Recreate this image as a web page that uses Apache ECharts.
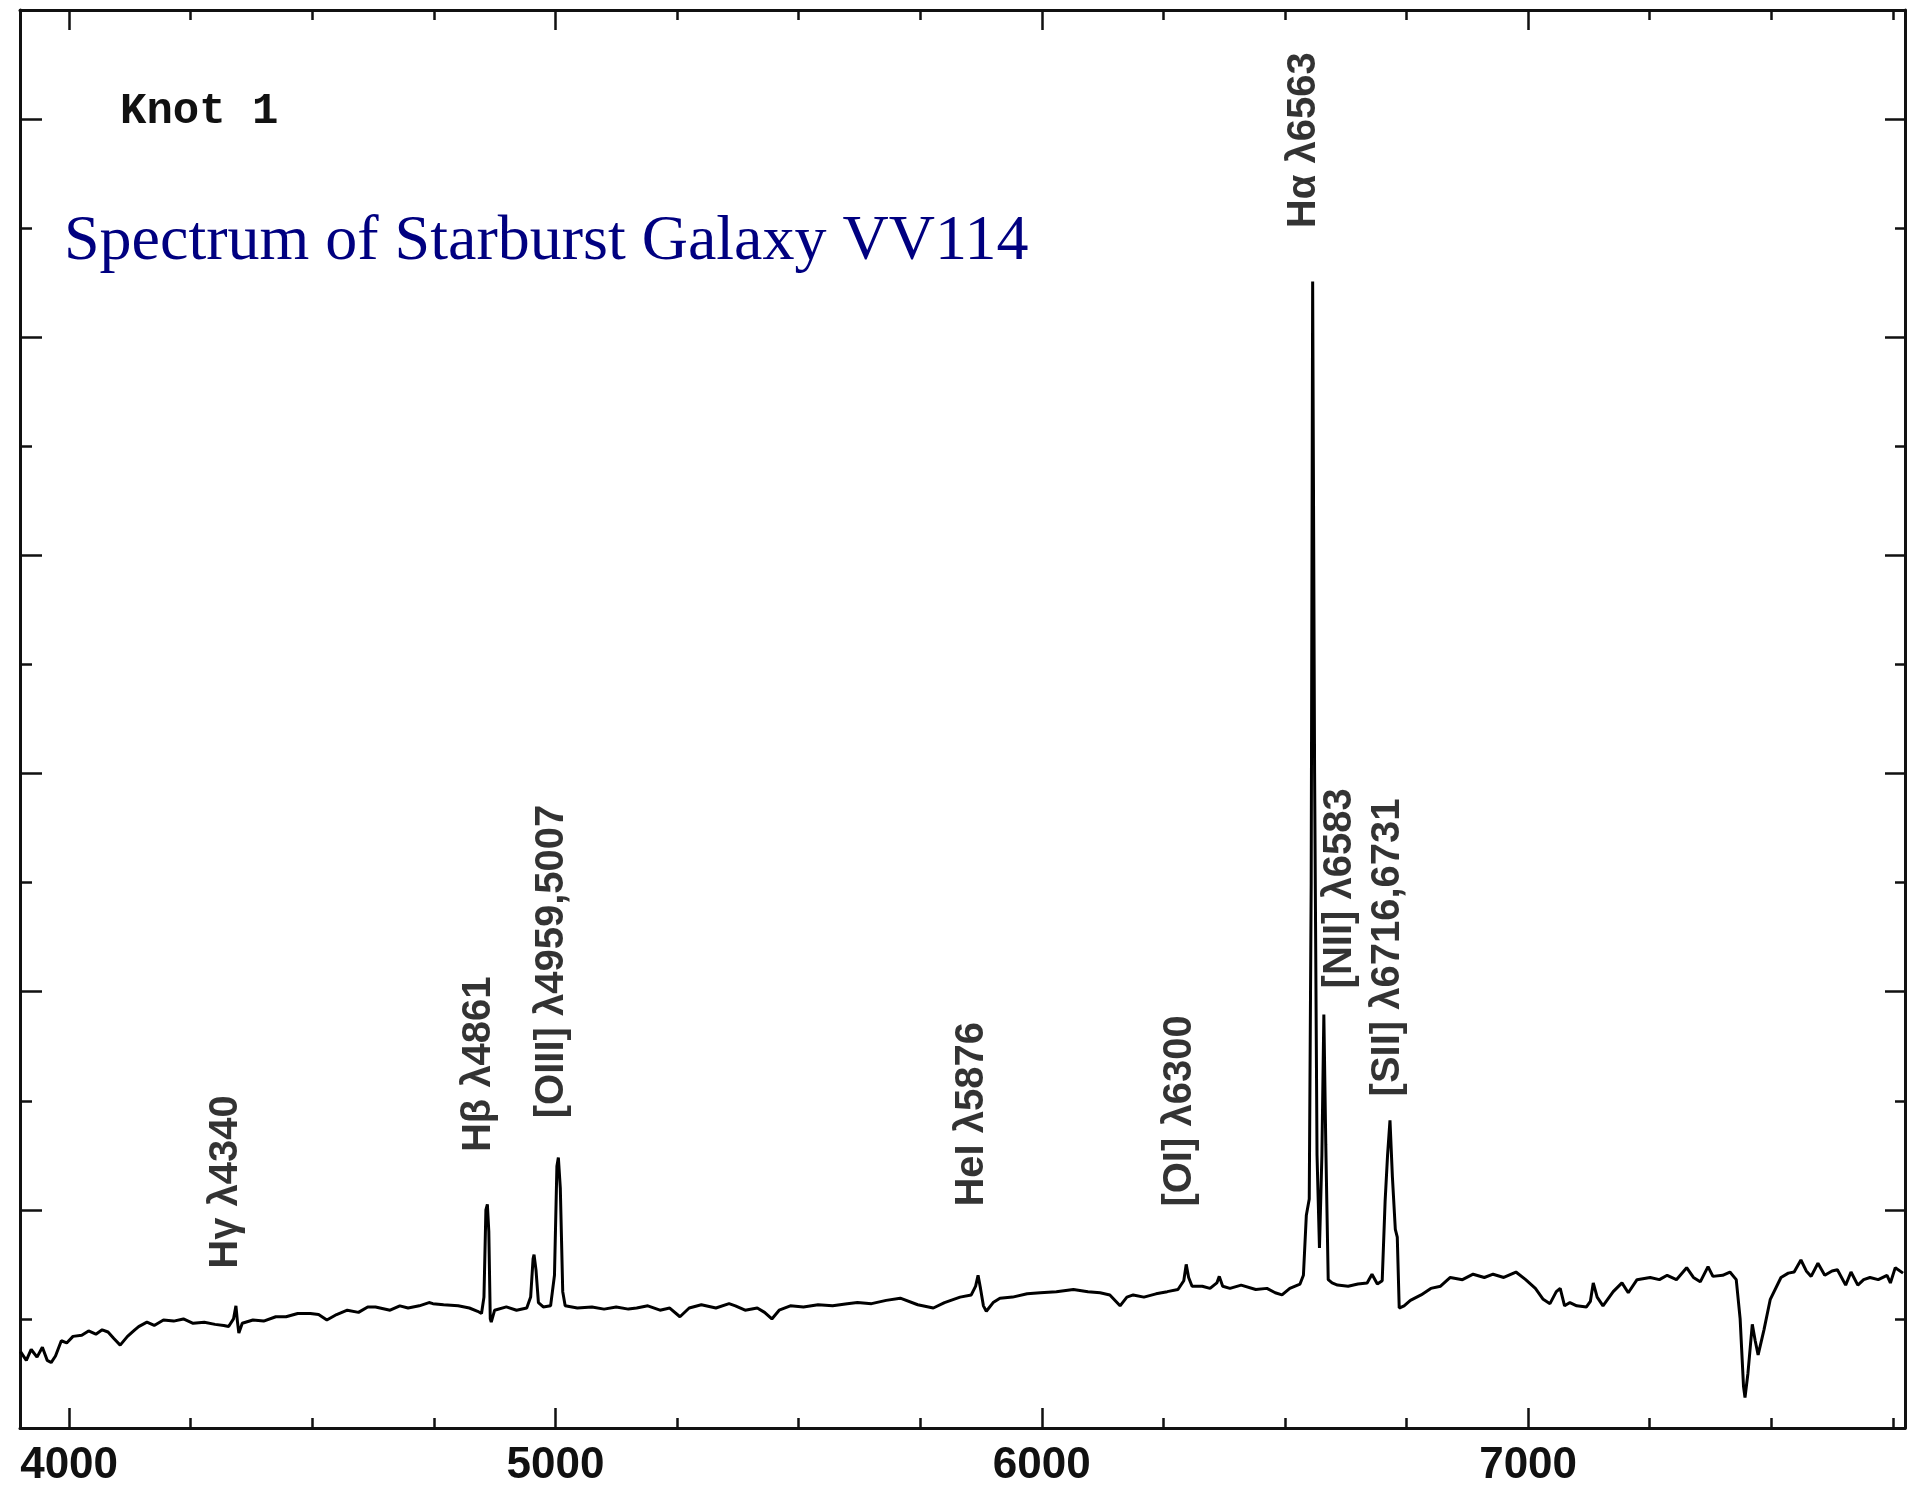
<!DOCTYPE html>
<html>
<head>
<meta charset="utf-8">
<title>Spectrum of Starburst Galaxy VV114</title>
<script src="https://cdn.jsdelivr.net/npm/echarts@6/dist/echarts.min.js"></script>
<style>
  html, body { margin: 0; padding: 0; background: #ffffff; }
  #spectrum { width: 1918px; height: 1494px; }
</style>
</head>
<body>
<div id="spectrum"></div>
<script>
// wavelength (Angstrom) and relative flux
var wavelength = [
  3900, 3912, 3922, 3934, 3945, 3955, 3963, 3972, 3984, 3995,
  4008, 4026, 4040, 4055, 4068, 4080, 4092, 4105, 4120, 4135,
  4143, 4160, 4175, 4194, 4215, 4235, 4255, 4278, 4300, 4318,
  4328, 4338, 4343, 4346, 4349, 4356, 4378, 4400, 4425, 4446,
  4470, 4496, 4513, 4530, 4550, 4572, 4595, 4614, 4630, 4660,
  4680, 4697, 4720, 4740, 4748, 4770, 4800, 4823, 4840, 4848,
  4853, 4857, 4860, 4863, 4866, 4868, 4875, 4899, 4920, 4941,
  4949, 4954, 4956, 4960, 4965, 4975, 4990, 4998, 5003, 5006,
  5010, 5015, 5020, 5045, 5075, 5100, 5125, 5150, 5167, 5190,
  5215, 5235, 5256, 5275, 5300, 5330, 5357, 5370, 5390, 5415,
  5430, 5445, 5460, 5483, 5510, 5540, 5570, 5600, 5621, 5650,
  5680, 5709, 5745, 5777, 5800, 5832, 5855, 5864, 5869, 5874,
  5880, 5886, 5900, 5914, 5940, 5970, 5997, 6030, 6065, 6095,
  6120, 6140, 6161, 6175, 6188, 6210, 6235, 6258, 6280, 6292,
  6297, 6302, 6309, 6330, 6346, 6360, 6365, 6372, 6387, 6410,
  6440, 6463, 6480, 6494, 6510, 6531, 6538, 6544, 6550, 6554,
  6557, 6561, 6566, 6571, 6576, 6580, 6584, 6589, 6597, 6608,
  6630, 6650, 6669, 6679, 6690, 6700, 6706, 6711, 6716, 6721,
  6727, 6731, 6735, 6745, 6758, 6780, 6800, 6820, 6840, 6865,
  6887, 6910, 6928, 6950, 6975, 6995, 7015, 7031, 7045, 7058,
  7066, 7075, 7086, 7100, 7120, 7128, 7134, 7142, 7154, 7175,
  7193, 7206, 7224, 7251, 7270, 7286, 7305, 7326, 7340, 7354,
  7370, 7380, 7400, 7415, 7428, 7436, 7443, 7446, 7452, 7461,
  7467, 7473, 7485, 7498, 7520, 7535, 7547, 7561, 7572, 7582,
  7596, 7610, 7625, 7636, 7653, 7664, 7678, 7690, 7703, 7720,
  7738, 7745, 7755, 7771
];
var flux = [
  0.70, 0.62, 0.72, 0.65, 0.74, 0.62, 0.60, 0.66, 0.80, 0.78,
  0.84, 0.85, 0.89, 0.86, 0.90, 0.88, 0.82, 0.76, 0.84, 0.90,
  0.93, 0.97, 0.94, 0.99, 0.98, 1.00, 0.96, 0.97, 0.95, 0.94,
  0.93, 1.00, 1.12, 0.98, 0.87, 0.96, 0.99, 0.98, 1.02, 1.02,
  1.05, 1.05, 1.04, 0.99, 1.04, 1.08, 1.06, 1.11, 1.11, 1.08,
  1.12, 1.10, 1.12, 1.15, 1.14, 1.13, 1.12, 1.10, 1.07, 1.05,
  1.20, 2.00, 2.05, 1.80, 1.00, 0.97, 1.08, 1.11, 1.08, 1.10,
  1.20, 1.55, 1.59, 1.45, 1.15, 1.11, 1.12, 1.40, 2.40, 2.48,
  2.20, 1.25, 1.12, 1.10, 1.11, 1.09, 1.11, 1.09, 1.10, 1.12,
  1.08, 1.10, 1.02, 1.10, 1.13, 1.10, 1.14, 1.12, 1.08, 1.10,
  1.06, 1.00, 1.08, 1.12, 1.11, 1.13, 1.12, 1.14, 1.15, 1.14,
  1.17, 1.19, 1.13, 1.10, 1.15, 1.20, 1.22, 1.30, 1.40, 1.28,
  1.12, 1.07, 1.15, 1.19, 1.20, 1.23, 1.24, 1.25, 1.27, 1.25,
  1.24, 1.22, 1.12, 1.20, 1.22, 1.20, 1.23, 1.25, 1.27, 1.35,
  1.50, 1.38, 1.30, 1.30, 1.28, 1.33, 1.39, 1.30, 1.28, 1.31,
  1.27, 1.28, 1.24, 1.22, 1.28, 1.32, 1.40, 1.95, 2.10, 5.00,
  10.51, 6.00, 2.50, 1.65, 2.50, 3.79, 2.60, 1.36, 1.33, 1.31,
  1.30, 1.32, 1.33, 1.41, 1.32, 1.35, 2.08, 2.50, 2.82, 2.30,
  1.82, 1.75, 1.10, 1.12, 1.17, 1.22, 1.28, 1.30, 1.38, 1.36,
  1.41, 1.38, 1.41, 1.38, 1.43, 1.36, 1.28, 1.18, 1.14, 1.25,
  1.28, 1.12, 1.15, 1.12, 1.11, 1.16, 1.33, 1.20, 1.12, 1.25,
  1.33, 1.24, 1.36, 1.38, 1.36, 1.40, 1.36, 1.47, 1.38, 1.34,
  1.48, 1.39, 1.40, 1.43, 1.36, 1.00, 0.38, 0.28, 0.50, 0.95,
  0.80, 0.67, 0.90, 1.18, 1.38, 1.42, 1.43, 1.54, 1.44, 1.39,
  1.51, 1.40, 1.44, 1.45, 1.31, 1.43, 1.31, 1.36, 1.38, 1.36,
  1.40, 1.33, 1.47, 1.42
];

// line identifications: text, wavelength of label column, flux where text starts
var lineNames = ['H\u03b3 \u03bb4340', 'H\u03b2 \u03bb4861', '[OIII] \u03bb4959,5007', 'HeI \u03bb5876',
                 '[OI] \u03bb6300', 'H\u03b1 \u03bb6563', '[NII] \u03bb6583', '[SII] \u03bb6716,6731'];
var lineLabelX = [4323, 4843, 4993, 5857, 6285, 6540, 6614, 6712];
var lineLabelY = [1.46, 2.53, 2.84, 2.03, 2.03, 11.0, 4.03, 3.04];

var xMajor = [4000, 5000, 6000, 7000];
var xMinor = [4250, 4500, 4750, 5250, 5500, 5750, 6250, 6500, 6750, 7250, 7500, 7750];
var yMajor = [2, 4, 6, 8, 10, 12];
var yMinor = [1, 3, 5, 7, 9, 11];

var xMin = 3899, xMax = 7775, yMin = 0, yMax = 13;

var spectrumChart = echarts.init(document.getElementById('spectrum'));

var frameColor = '#111111';

function xAx(pos, ticks, len, showLine, showLabel) {
  return {
    type: 'value', position: pos, min: xMin, max: xMax,
    axisLine: { show: showLine, onZero: false, lineStyle: { color: frameColor, width: 3 } },
    axisTick: { show: true, inside: true, length: len, customValues: ticks,
                lineStyle: { color: frameColor, width: 2.5 } },
    axisLabel: { show: showLabel, customValues: ticks, margin: 16,
                 formatter: function (v) { return String(v); },
                 fontFamily: 'Liberation Sans', fontWeight: 'bold', fontSize: 44, color: '#111111' },
    splitLine: { show: false }
  };
}
function yAx(pos, ticks, len, showLine) {
  return {
    type: 'value', position: pos, min: yMin, max: yMax,
    axisLine: { show: showLine, onZero: false, lineStyle: { color: frameColor, width: 3 } },
    axisTick: { show: true, inside: true, length: len, customValues: ticks,
                lineStyle: { color: frameColor, width: 2.5 } },
    axisLabel: { show: false },
    splitLine: { show: false }
  };
}

var labelData = [];
for (var i = 0; i < lineNames.length; i++) {
  labelData.push({ name: lineNames[i], value: [lineLabelX[i], lineLabelY[i]] });
}

var curve = [];
for (var j = 0; j < wavelength.length; j++) {
  curve.push([wavelength[j], flux[j]]);
}

var option = {
  backgroundColor: '#ffffff',
  animation: false,
  title: [
    {
      text: 'Knot 1', left: 120, top: 90, padding: 0,
      textStyle: { fontFamily: 'Liberation Mono', fontWeight: 'bold', fontSize: 44, color: '#111111' }
    },
    {
      text: 'Spectrum of Starburst Galaxy VV114', left: 64, top: 210, padding: 0,
      textStyle: { fontFamily: 'Liberation Serif', fontWeight: 'normal', fontSize: 64, color: '#000080' }
    }
  ],
  grid: { left: 20, right: 13, top: 10, bottom: 66 },
  xAxis: [
    xAx('bottom', xMajor, 20, true, true),
    xAx('bottom', xMinor, 10, false, false),
    xAx('top', xMajor, 20, true, false),
    xAx('top', xMinor, 10, false, false)
  ],
  yAxis: [
    yAx('left', yMajor, 22, true),
    yAx('left', yMinor, 12, false),
    yAx('right', yMajor, 20, true),
    yAx('right', yMinor, 10, false)
  ],
  series: [
    {
      name: 'Knot 1',
      type: 'line',
      xAxisIndex: 0, yAxisIndex: 0,
      data: curve,
      showSymbol: false,
      symbol: 'none',
      lineStyle: { color: '#000000', width: 3 }
    },
    {
      name: 'lines',
      type: 'scatter',
      xAxisIndex: 0, yAxisIndex: 0,
      symbolSize: 0,
      silent: true,
      data: labelData,
      label: {
        show: true,
        position: 'inside',
        rotate: 90,
        align: 'left',
        verticalAlign: 'middle',
        formatter: '{b}',
        fontFamily: 'Liberation Sans',
        fontWeight: 'bold',
        fontSize: 40,
        color: '#000000',
        textBorderWidth: 0
      }
    }
  ]
};
spectrumChart.setOption(option);
window.addEventListener('resize', function () {
  spectrumChart.resize();
});
</script>
</body>
</html>
